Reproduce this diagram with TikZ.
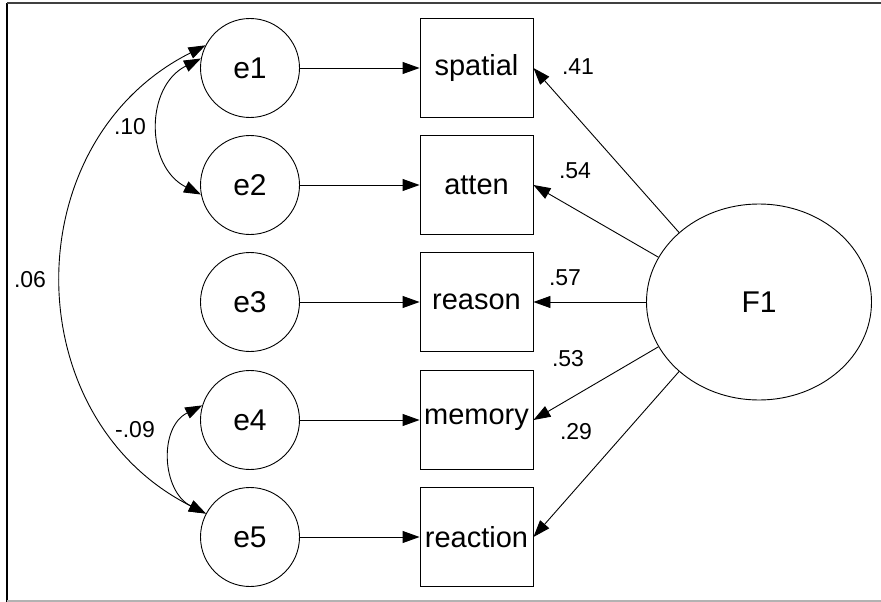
\documentclass[tikz,border=0pt]{standalone}
\usepackage{fontspec}
\setmainfont{Liberation Sans}
\usetikzlibrary{arrows.meta,shapes.geometric}
\begin{document}
\begin{tikzpicture}[x=1pt,y=-1pt,line width=0.9pt,
  errc/.style={draw, circle, minimum size=99pt, inner sep=0pt, font=\fontsize{30}{34}\selectfont},
  obsbox/.style={draw, rectangle, minimum width=113pt, minimum height=99pt, inner sep=0pt, font=\fontsize{29}{33}\selectfont},
  lat/.style={draw, ellipse, minimum width=225pt, minimum height=196pt, inner sep=0pt, font=\fontsize{30}{34}\selectfont},
  arr/.style={-{Triangle[length=17pt,width=12pt]}},
  darr/.style={{Triangle[length=17pt,width=12pt]}-{Triangle[length=17pt,width=12pt]}},
  coef/.style={font=\fontsize{23}{26}\selectfont, inner sep=0pt}]
\useasboundingbox (0,0) rectangle (881,602);
% frame
\draw[line width=2pt] (7,602) -- (7,3);
\draw[line width=1.6pt, black!75] (7,3) -- (881,3);
\draw[line width=1.6pt, black!30] (7,601) -- (881,601);
% nodes
\node[errc] (e1) at (250,68) {e1};
\node[errc] (e2) at (250,185) {e2};
\node[errc] (e3) at (250,302) {e3};
\node[errc] (e4) at (250,420) {e4};
\node[errc] (e5) at (250,537) {e5};
\node[obsbox] (spatial) at (476.5,68) {spatial};
\node[obsbox] (atten) at (476.5,185) {atten};
\node[obsbox] (reason) at (476.5,302) {reason};
\node[obsbox] (memory) at (476.5,420) {memory};
\node[obsbox] (reaction) at (476.5,537) {reaction};
\node[lat] (F1) at (759,302) {F1};
% error paths
\draw[arr] (e1.east) -- (spatial.west);
\draw[arr] (e2.east) -- (atten.west);
\draw[arr] (e3.east) -- (reason.west);
\draw[arr] (e4.east) -- (memory.west);
\draw[arr] (e5.east) -- (reaction.west);
% loadings
\draw[arr] (F1.139) -- (spatial.east);
\draw[arr] (F1.156) -- (atten.east);
\draw[arr] (F1.180) -- (reason.east);
\draw[arr] (F1.204) -- (memory.east);
\draw[arr] (F1.221) -- (reaction.east);
% covariances
\draw[darr] (e1.153) .. controls +(-191,96) and +(-191,-96) .. (e5.152);
\draw[darr] (e1.169) .. controls +(-56,28) and +(-56,-28) .. (e2.191);
\draw[darr] (e4.163) .. controls +(-44,22) and +(-44,-22) .. (e5.152);
% labels
\node[coef] (l41) at (578,67) {.41};
\node[coef] (l54) at (575,171) {.54};
\node[coef] (l57) at (565,278) {.57};
\node[coef] (l53) at (568,359) {.53};
\node[coef] (l29) at (576,432) {.29};
\node[coef] (l10) at (130,127) {.10};
\node[coef] (l06) at (30,280) {.06};
\node[coef] (l09) at (135,430) {-.09};
\end{tikzpicture}
\end{document}
